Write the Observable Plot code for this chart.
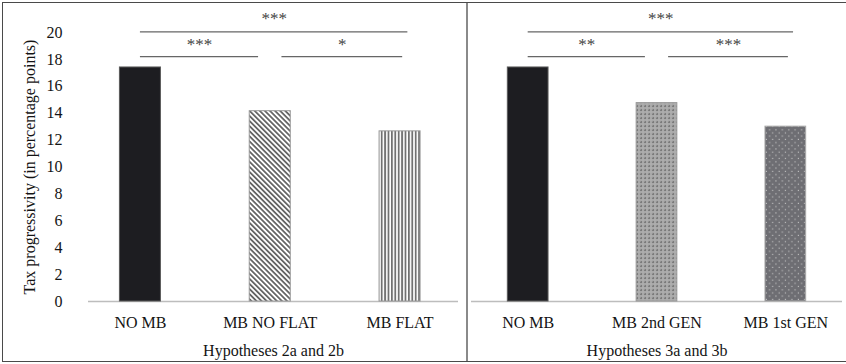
<!DOCTYPE html>
<html><head><meta charset="utf-8">
<script src="https://cdn.jsdelivr.net/npm/d3@7"></script>
<script src="https://cdn.jsdelivr.net/npm/@observablehq/plot@0.6"></script>
<style>
body{margin:0;background:#fff;}
#wrap{position:relative;width:846px;height:364px;overflow:hidden;font-family:"Liberation Serif","Times New Roman",serif;background:#fff;}
#left{position:absolute;left:0;top:0;}
#right{position:absolute;left:467px;top:0;}
#frame{position:absolute;left:2px;top:2px;width:900px;height:358px;border:1.5px solid #4a4a4a;pointer-events:none;}
#divider{position:absolute;left:466px;top:3px;width:1.5px;height:358px;background:#8a8a8a;}
#defs{position:absolute;width:0;height:0;}
</style></head>
<body>
<div id="wrap">
<svg id="defs" width="0" height="0">
  <defs>
    <pattern id="pDiag" patternUnits="userSpaceOnUse" width="3.6" height="3.6" patternTransform="rotate(-45)">
      <rect width="3.6" height="3.6" fill="#fff"/>
      <rect width="1.8" height="3.6" fill="#666"/>
    </pattern>
    <pattern id="pVert" patternUnits="userSpaceOnUse" width="3.4" height="4">
      <rect width="3.4" height="4" fill="#fff"/>
      <rect width="1.8" height="4" fill="#717171"/>
    </pattern>
    <pattern id="pBalls" patternUnits="userSpaceOnUse" width="4" height="4">
      <rect width="4" height="4" fill="#e4e4e4"/>
      <circle cx="2" cy="2" r="1.75" fill="#7a7a7a"/>
      <circle cx="1.6" cy="1.6" r="0.6" fill="#9c9c9c"/>
      <circle cx="0" cy="0" r="0.7" fill="#5f5f5f"/>
      <circle cx="4" cy="0" r="0.7" fill="#5f5f5f"/>
      <circle cx="0" cy="4" r="0.7" fill="#5f5f5f"/>
      <circle cx="4" cy="4" r="0.7" fill="#5f5f5f"/>
    </pattern>
    <pattern id="pDots" patternUnits="userSpaceOnUse" width="6.4" height="6.4">
      <rect width="6.4" height="6.4" fill="#6e6e73"/>
      <rect x="1.2" y="1.2" width="1.1" height="1.1" fill="#c8c8c8"/>
      <rect x="4.4" y="4.4" width="1.1" height="1.1" fill="#c8c8c8"/>
    </pattern>
  </defs>
</svg>
<div id="left"></div>
<div id="right"></div>
<div id="frame"></div>
<div id="divider"></div>
</div>
<script>
// ---- data ----
const catsLeft = ["NO MB", "MB NO FLAT", "MB FLAT"];
const valsLeft = [17.4, 14.15, 12.65];
const fillsLeft = ["solid", "diag", "vert"];
const sigFromLeft = [0, 0, 1];
const sigToLeft = [2, 1, 2];
const sigLabelLeft = ["***", "***", "*"];
const titleLeft = "Hypotheses 2a and 2b";

const catsRight = ["NO MB", "MB 2nd GEN", "MB 1st GEN"];
const valsRight = [17.4, 14.75, 13.0];
const fillsRight = ["solid", "balls", "dots"];
const sigFromRight = [0, 0, 1];
const sigToRight = [2, 1, 2];
const sigLabelRight = ["***", "**", "***"];
const titleRight = "Hypotheses 3a and 3b";

const yTicks = d3.range(0, 21, 2);
const yLabel = "Tax progressivity (in percentage points)";

// ---- styling maps ----
const fillMap = {solid: "#1d1d21", diag: "url(#pDiag)", vert: "url(#pVert)", balls: "url(#pBalls)", dots: "url(#pDots)"};
const strokeMap = {solid: "#5a5a5a", diag: "#999", vert: "#999", balls: "#999", dots: "#aaa"};
const HALF = 0.158;
const TOP_LINE = 20.05, LOW_LINE = 18.2, TOP_STAR = 21.05, LOW_STAR = 19.1;

function makePanel({cats, vals, fills, sigFrom, sigTo, sigLabel, title, width, marginLeft, marginRight, domain, showY}) {
  const bars = cats.map((c, i) => ({i, c, v: vals[i], f: fills[i]}));
  const sigs = sigFrom.map((f, k) => {
    const top = sigTo[k] - f === 2;
    const x1 = top ? f : (f === 0 ? f : f + 0.09);
    const x2 = top ? sigTo[k] + 0.06 : (sigTo[k] === 2 ? sigTo[k] + 0.02 : sigTo[k] - 0.09);
    return {x1, x2, xm: (x1 + x2) / 2, top, label: sigLabel[k]};
  });
  const marks = [
    Plot.ruleY([0], {stroke: "#bdbdbd", strokeWidth: 1.6}),
    Plot.rectY(bars, {x1: d => d.i - HALF, x2: d => d.i + HALF, y1: 0, y2: "v",
      fill: d => fillMap[d.f], stroke: d => strokeMap[d.f], strokeWidth: 1}),
    Plot.ruleY(sigs, {x1: "x1", x2: "x2", y: d => d.top ? TOP_LINE : LOW_LINE, stroke: "#666", strokeWidth: 1.2}),
    Plot.text(sigs, {x: "xm", y: d => d.top ? TOP_STAR : LOW_STAR, text: "label", fill: "#444", fontSize: 17}),
    Plot.axisX({ticks: [0, 1, 2], tickFormat: i => cats[i], tickSize: 0, tickPadding: 15, label: null, fontSize: 16, fill: "#141414"}),
    Plot.text([title], {frameAnchor: "bottom", lineAnchor: "middle", dy: 49, fontSize: 16, fill: "#141414"})
  ];
  if (showY) {
    marks.push(Plot.axisY({ticks: yTicks, tickSize: 0, tickPadding: 26, fontSize: 16, fill: "#141414",
      label: yLabel, labelAnchor: "center", labelOffset: 65, labelArrow: "none"}));
  } else {
    marks.push(Plot.axisY({ticks: [], label: null}));
  }
  return Plot.plot({
    width, height: 364,
    marginLeft, marginRight, marginTop: 32, marginBottom: 63,
    x: {type: "linear", domain, axis: null},
    y: {domain: [0, 20], axis: null},
    color: {type: "identity"},
    style: {fontFamily: '"Liberation Serif","Times New Roman",serif', fontSize: "16px", color: "#141414", background: "transparent", overflow: "visible"},
    marks
  });
}

document.getElementById("left").append(makePanel({
  cats: catsLeft, vals: valsLeft, fills: fillsLeft, sigFrom: sigFromLeft, sigTo: sigToLeft, sigLabel: sigLabelLeft,
  title: titleLeft, width: 467, marginLeft: 88, marginRight: 9, domain: [-0.4, 2.45], showY: true
}));
document.getElementById("right").append(makePanel({
  cats: catsRight, vals: valsRight, fills: fillsRight, sigFrom: sigFromRight, sigTo: sigToRight, sigLabel: sigLabelRight,
  title: titleRight, width: 379, marginLeft: 4, marginRight: 4, domain: [-0.44, 2.44], showY: false
}));
</script>
</body></html>
